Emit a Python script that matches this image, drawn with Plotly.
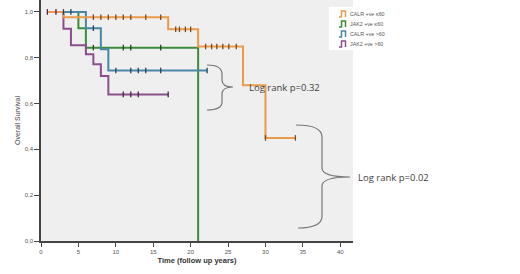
import plotly.graph_objects as go

# ---------------- data ----------------
series_names = ["CALR +ve ≤60", "JAK2 +ve ≤60", "CALR +ve >60", "JAK2 +ve >60"]
series_colors = ["#EA9A4C", "#3C8C3C", "#4A86A6", "#8A4E8C"]
mark_colors = ["#7A4A20", "#244424", "#24445A", "#4A244A"]

calr_le60_t = [0.85, 3, 17, 21, 27, 30, 34]
calr_le60_s = [1.0, 0.977, 0.924, 0.849, 0.68, 0.45, 0.45]
calr_le60_cens_t = [7, 8, 9, 10, 11, 12, 14, 16, 18, 18.5, 19.3, 20, 22, 22.8, 23.5, 24.3, 25.1, 26.1, 30, 34]

jak2_le60_t = [0.85, 5, 6, 21]
jak2_le60_s = [1.0, 0.929, 0.844, 0.0]
jak2_le60_cens_t = [7, 11, 12, 16]

calr_gt60_t = [0.85, 6, 8, 9, 22.2]
calr_gt60_s = [1.0, 0.929, 0.837, 0.744, 0.744]
calr_gt60_cens_t = [3, 4, 7, 10, 12, 13, 14, 16, 22.2]

jak2_gt60_t = [0.85, 3, 4, 6, 7, 8, 9, 17]
jak2_gt60_s = [1.0, 0.926, 0.855, 0.815, 0.771, 0.72, 0.64, 0.64]
jak2_gt60_cens_t = [0.85, 2, 11, 12, 13, 17]

y_tick_vals = [0.0, 0.2, 0.4, 0.6, 0.8, 1.0]
y_tick_text = ["0,0", "0,2", "0,4", "0,6", "0,8", "1,0"]
x_tick_vals = [0, 5, 10, 15, 20, 25, 30, 35, 40]

annot_texts = ["Log rank p=0.32", "Log rank p=0.02"]

# ---------------- helpers ----------------
W, H = 520, 274
L, R, T, B = 41, 353, 0, 241


def surv_at(ts, ss, t):
    v = ss[0]
    for ti, si in zip(ts, ss):
        if ti <= t:
            v = si
    return v


def px(x):
    return (x - L) / (R - L)


def py(y):
    return (B - y) / (B - T)


def path(points_cmds):
    out = []
    for cmd, pts in points_cmds:
        s = cmd + " " + " ".join(f"{px(a):.5f},{py(b):.5f}" for a, b in pts)
        out.append(s)
    return " ".join(out)


fig = go.Figure()

all_series = [
    (calr_le60_t, calr_le60_s, calr_le60_cens_t),
    (jak2_le60_t, jak2_le60_s, jak2_le60_cens_t),
    (calr_gt60_t, calr_gt60_s, calr_gt60_cens_t),
    (jak2_gt60_t, jak2_gt60_s, jak2_gt60_cens_t),
]

draw_order = [1, 2, 3, 0]
for i in draw_order:
    ts, ss, cs = all_series[i]
    fig.add_trace(go.Scatter(
        x=ts, y=ss, mode="lines", line=dict(color=series_colors[i], width=2, shape="hv"),
        name=series_names[i], showlegend=False, hoverinfo="skip"))
for i in draw_order:
    ts, ss, cs = all_series[i]
    fig.add_trace(go.Scatter(
        x=cs, y=[surv_at(ts, ss, c) for c in cs], mode="markers",
        marker=dict(symbol="line-ns-open", size=4, color=mark_colors[i],
                    line=dict(color=mark_colors[i], width=1.3)),
        showlegend=False, hoverinfo="skip"))

shapes = []
# braces
brace_color = "#777777"
b1 = path([("M", [(207, 65)]), ("Q", [(222, 65), (222, 74)]), ("L", [(222, 80)]),
           ("Q", [(222, 87), (233, 87)]), ("Q", [(222, 87), (222, 94)]), ("L", [(222, 102)]),
           ("Q", [(222, 110), (207, 110)])])
b2 = path([("M", [(296, 125)]), ("Q", [(322, 125), (322, 137)]), ("L", [(322, 168)]),
           ("Q", [(322, 177), (350, 177)]), ("Q", [(322, 177), (322, 186)]), ("L", [(322, 216)]),
           ("Q", [(322, 228), (298, 228)])])
for b in (b1, b2):
    shapes.append(dict(type="path", path=b, xref="paper", yref="paper",
                       line=dict(color=brace_color, width=1.2)))

# custom legend box
shapes.append(dict(type="rect", xref="paper", yref="paper",
                   x0=px(329), x1=px(386), y0=py(50), y1=py(7),
                   fillcolor="white", line=dict(width=0), layer="above"))
annotations = []
rows = [14, 24, 34, 44]
for i, ry in enumerate(rows):
    icon = path([("M", [(339, ry + 3)]), ("L", [(341.5, ry + 3)]), ("L", [(341.5, ry - 3)]),
                 ("L", [(345.5, ry - 3)]), ("L", [(345.5, ry + 3)])])
    shapes.append(dict(type="path", path=icon, xref="paper", yref="paper",
                       line=dict(color=series_colors[i], width=1.5), layer="above"))
    annotations.append(dict(x=px(347.5), y=py(ry), xref="paper", yref="paper",
                            text=series_names[i], showarrow=False, xanchor="left", yanchor="middle",
                            font=dict(size=5.3, color="#555555", family="Liberation Sans")))

annotations.append(dict(x=px(247), y=py(87), xref="paper", yref="paper", text=annot_texts[0],
                        showarrow=False, xanchor="left", yanchor="middle",
                        font=dict(size=9.5, color="#404040", family="Open Sans")))
annotations.append(dict(x=px(356), y=py(177), xref="paper", yref="paper", text=annot_texts[1],
                        showarrow=False, xanchor="left", yanchor="middle",
                        font=dict(size=9.5, color="#404040", family="Open Sans")))

fig.update_layout(
    width=W, height=H,
    margin=dict(l=L, r=W - R, t=T, b=H - B, pad=0, autoexpand=False),
    paper_bgcolor="white", plot_bgcolor="#EFEFEF",
    shapes=shapes, annotations=annotations,
    showlegend=False,
    xaxis=dict(range=[0, 41.7], tickvals=x_tick_vals, ticks="outside", ticklen=4, tickwidth=1,
               tickcolor="#444444", showline=True, linecolor="#444444", linewidth=1.5,
               showgrid=False, zeroline=False, automargin=False,
               tickfont=dict(size=6, color="#555555", family="Liberation Sans"),
               title=dict(text="<b>Time (follow up years)</b>", standoff=4,
                          font=dict(size=7.5, color="#333333", family="Liberation Sans"))),
    yaxis=dict(range=[0, 1.052], tickvals=y_tick_vals, ticktext=y_tick_text, ticks="outside",
               ticklen=5, tickwidth=1, tickcolor="#444444", showline=True, linecolor="#444444",
               linewidth=1.5, showgrid=False, zeroline=False, automargin=False,
               tickfont=dict(size=6, color="#555555", family="Liberation Sans"),
               title=dict(text="Overall Survival", standoff=3,
                          font=dict(size=7, color="#444444", family="Liberation Sans"))),
)

fig.write_html("out.html", config={"displayModeBar": False},
               post_script="document.body.style.margin='0';document.body.style.overflow='hidden';")
